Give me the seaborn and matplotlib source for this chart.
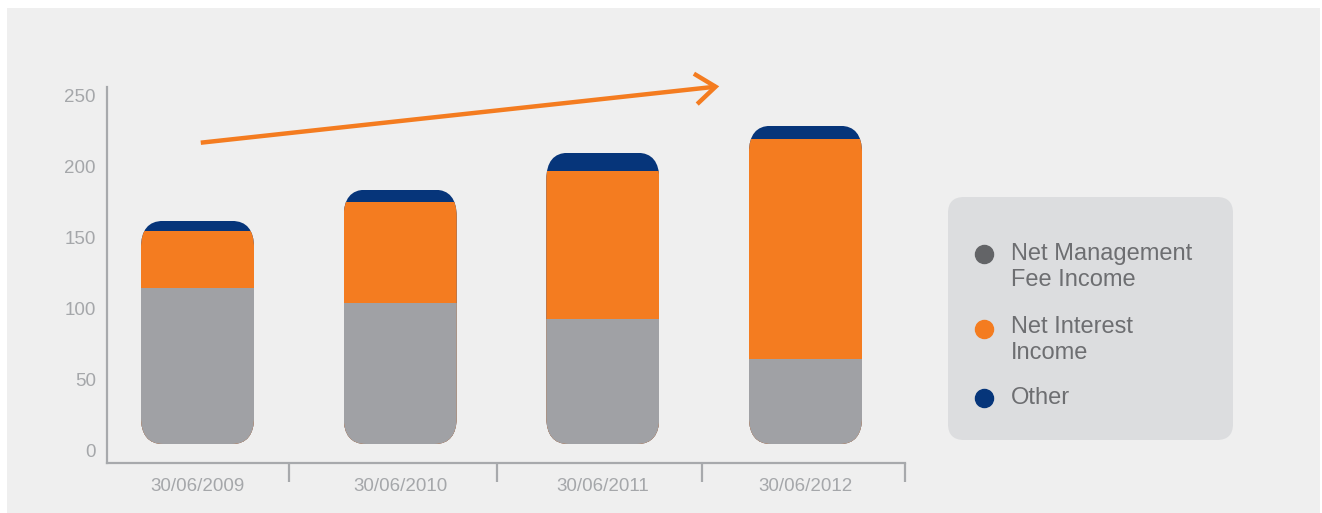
import numpy as np
import pandas as pd
import matplotlib
matplotlib.use("Agg")
import matplotlib.pyplot as plt
import seaborn as sns
from matplotlib.patches import FancyBboxPatch, Rectangle, FancyArrowPatch
from matplotlib.lines import Line2D

# ---------------- data ----------------
dates = ["30/06/2009", "30/06/2010", "30/06/2011", "30/06/2012"]
fee_income = [115, 104, 93, 65]
interest_income = [40, 71, 104, 155]
other_income = [7, 9, 13, 9]
series_names = ["Net Management\nFee Income", "Net Interest\nIncome", "Other"]
y_ticks = [0, 50, 100, 150, 200, 250]

# ---------------- style ----------------
C_GRAY = "#a0a1a5"
C_ORANGE = "#f47c20"
C_NAVY = "#06357a"
C_LEG_GRAY = "#636467"
C_BG = "#efefef"
C_AXIS = "#a7a9ac"
C_TEXT = "#a5a7aa"
C_LEG_TEXT = "#6d6e71"
C_LEG_BOX = "#dcdddf"

sns.set_theme(style="white")
plt.rcParams["font.family"] = ["Liberation Sans", "DejaVu Sans"]

W, H = 1322, 513
fig = plt.figure(figsize=(W / 100, H / 100), dpi=100, facecolor="white")

def fx(px):
    return px / W

def fy(py):
    return 1 - py / H

# background panel
fig.add_artist(Rectangle((fx(7), 0), fx(1320) - fx(7), fy(8), transform=fig.transFigure,
                         facecolor=C_BG, edgecolor="none", zorder=-10))

# axes: x spine from 107 to 905 px, y spine from 87 to 463 px
ax_l, ax_r, ax_t, ax_b = 107, 905, 87, 463
ax = fig.add_axes([fx(ax_l), fy(ax_b), fx(ax_r) - fx(ax_l), fy(ax_t) - fy(ax_b)])
ax.set_facecolor("none")

df = pd.DataFrame({
    "date": dates,
    "fee": fee_income,
    "interest": interest_income,
    "other": other_income,
})
df["lvl_interest"] = df["fee"] + df["interest"]
df["total"] = df["lvl_interest"] + df["other"]

bar_w = 0.558
for col, colr in [("total", C_NAVY), ("lvl_interest", C_ORANGE), ("fee", C_GRAY)]:
    sns.barplot(data=df, x="date", y=col, color=colr, width=bar_w, saturation=1,
                linewidth=0, ax=ax, errorbar=None)

xlim = (-0.4466, 3.491)
ylim = (-8.45, 256.3)
ax.set_xlim(*xlim)
ax.set_ylim(*ylim)
ax.set_xlabel("")
ax.set_ylabel("")

# rounded clipping of each stacked bar (elliptical corners)
px_per_x = (ax_r - ax_l) / (xlim[1] - xlim[0])
px_per_y = (ax_b - ax_t) / (ylim[1] - ylim[0])
rx_px, ry_px = 22, 27
rx = rx_px / px_per_x
ry = ry_px / px_per_y
aspect = ry / rx
base = 7 / px_per_y  # bars start a few pixels above the baseline
totals = df["total"].tolist()
clips = []
for i, tot in enumerate(totals):
    clip = FancyBboxPatch((i - bar_w / 2, base), bar_w, tot - base,
                          boxstyle=f"round,pad=0,rounding_size={rx}",
                          mutation_aspect=aspect, transform=ax.transData)
    clips.append(clip)
for p in ax.patches:
    i = int(round(p.get_x() + p.get_width() / 2))
    p.set_clip_path(clips[i])

# spines and ticks
sns.despine(ax=ax, top=True, right=True)
for s in ["left", "bottom"]:
    ax.spines[s].set_color(C_AXIS)
    ax.spines[s].set_linewidth(1.6)

ax.set_yticks(y_ticks)
ax.set_yticklabels([str(v) for v in y_ticks])
ax.tick_params(axis="y", left=True, length=0, pad=8, labelsize=13.5, labelcolor=C_TEXT)

ax.set_xticks(range(len(dates)))
ax.set_xticklabels(dates)
ax.tick_params(axis="x", which="major", bottom=True, length=0, pad=11, labelsize=13.5,
               labelcolor=C_TEXT)
ax.set_xticks([0.45, 1.48, 2.49, 3.49], minor=True)
ax.tick_params(axis="x", which="minor", bottom=True, length=13.5, width=1.6, color=C_AXIS,
               direction="out")
ax.grid(False)

# trend arrow
fig.add_artist(FancyArrowPatch(
    (fx(198), fy(143)), (fx(722), fy(86)), transform=fig.transFigure,
    arrowstyle="->,head_length=1.45,head_width=1.1", mutation_scale=10,
    color=C_ORANGE, lw=3.2, capstyle="butt", joinstyle="miter"))

# legend panel
leg_l, leg_r, leg_t, leg_b = 948, 1233, 197, 440
fig.add_artist(FancyBboxPatch((fx(leg_l), fy(leg_b)), fx(leg_r) - fx(leg_l), fy(leg_t) - fy(leg_b),
                              boxstyle=f"round,pad=0,rounding_size={fx(16)}",
                              mutation_aspect=(W / H),
                              transform=fig.transFigure, facecolor=C_LEG_BOX, edgecolor="none"))
leg_colors = [C_LEG_GRAY, C_ORANGE, C_NAVY]
marker_y = [254, 329, 398]
text_y = [267, 340, 398]
for name, colr, my, ty in zip(series_names, leg_colors, marker_y, text_y):
    fig.add_artist(Line2D([fx(984)], [fy(my)], transform=fig.transFigure, marker="o",
                          markersize=13, color=colr, linestyle="none"))
    fig.text(fx(1011), fy(ty), name, fontsize=17, color=C_LEG_TEXT, va="center", ha="left",
             linespacing=1.22)

fig.savefig("out.png", dpi=100, facecolor="white")
